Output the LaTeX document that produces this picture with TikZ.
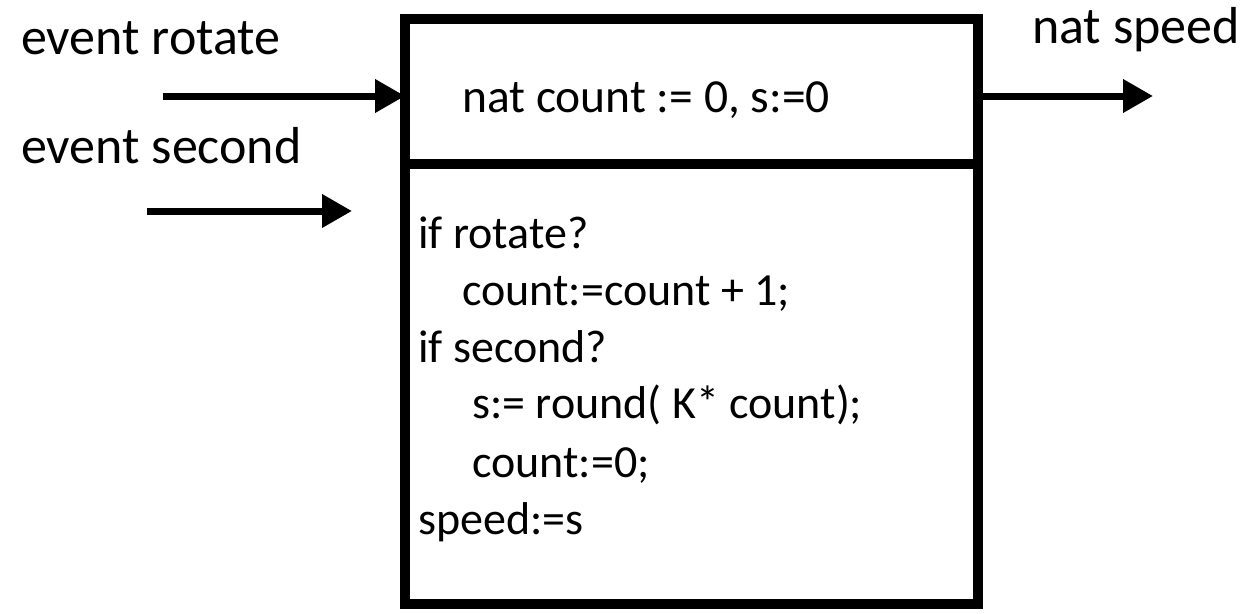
\documentclass[tikz,border=0pt]{standalone}
\usepackage{fontspec}
\setmainfont{Carlito}
\usetikzlibrary{arrows.meta}
\begin{document}
\begin{tikzpicture}[x=1pt,y=-1pt,
  lbl/.style={anchor=base west,inner sep=0pt,font=\fontsize{52}{60}\selectfont},
  code/.style={anchor=base west,inner sep=0pt,font=\fontsize{46}{56}\selectfont},
  arr/.style={line width=7pt,-{Triangle[length=30pt,width=32pt]}},
  boxline/.style={line width=10pt}]
\useasboundingbox (0,0) rectangle (1247,613);
\node[draw,boxline,minimum width=573pt,minimum height=585pt,inner sep=0pt,outer sep=0pt] (box) at (691.5,311.75) {};
\coordinate (dl) at (405,163.5);
\coordinate (dr) at (978,163.5);
\draw[boxline] (dl) -- (dr);
\node[lbl] (er) at (21,54) {event rotate};
\node[lbl] (es) at (21,163) {event second};
\node[lbl] (ns) at (1032,43) {nat speed};
\coordinate (rin) at (163,96);
\coordinate (s1) at (147,211);
\coordinate (s2) at (352,211);
\coordinate (out) at (1153,96);
\draw[arr] (rin) -- (rin -| box.west);
\draw[arr] (s1) -- (s2);
\draw[arr] (box.east |- out) -- (out);
\node[code,font=\fontsize{47.5}{56}\selectfont] (init) at (462,112) {nat count := 0, s:=0};
\node[code] (c1) at (418,248) {if rotate?};
\node[code] (c2) at (462,305) {count:=count + 1;};
\node[code] (c3) at (418,362) {if second?};
\node[code] (c4) at (472,418) {s:= round( K* count);};
\node[code] (c5) at (472,477) {count:=0;};
\node[code] (c6) at (418,534) {speed:=s};
\end{tikzpicture}
\end{document}
